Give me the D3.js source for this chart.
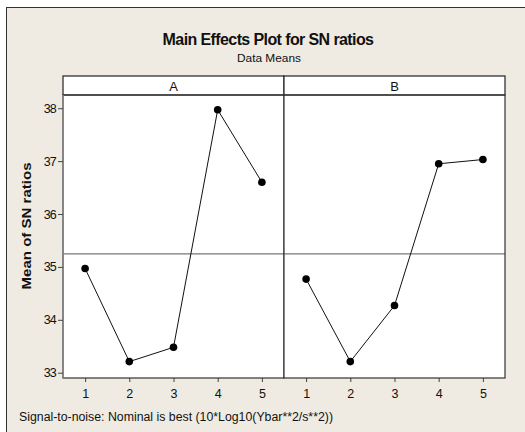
<!DOCTYPE html>
<html>
<head>
<meta charset="utf-8">
<script src="https://cdn.jsdelivr.net/npm/d3@7"></script>
<style>
  body { margin: 0; background: #fff; }
  text { font-family: "Liberation Sans Narrow", "Liberation Sans", Arial, sans-serif; fill: #111; }
</style>
</head>
<body>
<svg id="mainsvg" width="525" height="432"></svg>
<script>
// factor levels and SN ratio means
let levels = [1, 2, 3, 4, 5];
let factors = ["A", "B"];
let meansA = [34.97, 33.21, 33.48, 37.97, 36.60];
let meansB = [34.77, 33.21, 34.27, 36.95, 37.03];
let yTicks = [33, 34, 35, 36, 37, 38];

let svg = d3.select("#mainsvg");

// beige frame
svg.append("rect")
    .attr("x", 6.5).attr("y", 7.5)
    .attr("width", 540).attr("height", 440)
    .attr("fill", "#efebe2")
    .attr("stroke", "#333").attr("stroke-width", 1);

svg.append("text")
    .attr("x", 268).attr("y", 45)
    .attr("text-anchor", "middle")
    .attr("font-size", 16).attr("font-weight", "bold")
    .attr("letter-spacing", -0.6)
    .text("Main Effects Plot for SN ratios");
svg.append("text")
    .attr("x", 269).attr("y", 62)
    .attr("text-anchor", "middle")
    .attr("font-size", 11.5)
    .attr("textLength", 64).attr("lengthAdjust", "spacingAndGlyphs")
    .text("Data Means");

let plotL = 63, plotR = 505, plotT = 95, stripT = 76, plotB = 378;
let panelW = (plotR - plotL) / factors.length;

let y = d3.scaleLinear().domain([32.9, 38.25]).range([plotB, plotT]);
let series = [meansA, meansB];
let grandMean = d3.mean(meansA);

factors.forEach(function (f, i) {
    let x0 = plotL + i * panelW;
    let x = d3.scaleLinear().domain([0.5, 5.5]).range([x0, x0 + panelW]);
    let g = svg.append("g");

    g.append("rect")
        .attr("x", x0).attr("y", plotT)
        .attr("width", panelW).attr("height", plotB - plotT)
        .attr("fill", "#fff");
    // strip
    g.append("rect")
        .attr("x", x0).attr("y", stripT)
        .attr("width", panelW).attr("height", plotT - stripT)
        .attr("fill", "#fff").attr("stroke", "#222").attr("stroke-width", 1.2);
    g.append("text")
        .attr("x", x0 + panelW / 2).attr("y", 90.5)
        .attr("text-anchor", "middle")
        .attr("font-size", 13)
        .text(f);

    // grand mean reference line
    g.append("line")
        .attr("x1", x0).attr("x2", x0 + panelW)
        .attr("y1", y(grandMean)).attr("y2", y(grandMean))
        .attr("stroke", "#777").attr("stroke-width", 1.2);

    let line = d3.line().x((d, k) => x(levels[k])).y(d => y(d));
    g.append("path")
        .attr("d", line(series[i]))
        .attr("fill", "none").attr("stroke", "#111").attr("stroke-width", 1);
    g.selectAll("circle").data(series[i]).enter()
        .append("circle")
        .attr("cx", (d, k) => x(levels[k]))
        .attr("cy", d => y(d))
        .attr("r", 3.8)
        .attr("fill", "#000");

    let xAxis = g.append("g")
        .attr("transform", "translate(0," + plotB + ")")
        .call(d3.axisBottom(x).tickValues(levels).tickFormat(d3.format("d")).tickSize(4).tickPadding(7));
    xAxis.select(".domain").remove();
    xAxis.selectAll("line").attr("stroke", "#444");
    xAxis.selectAll("text").attr("font-size", 12.5);

    g.append("rect")
        .attr("x", x0).attr("y", plotT)
        .attr("width", panelW).attr("height", plotB - plotT)
        .attr("fill", "none").attr("stroke", "#333").attr("stroke-width", 1.2);
});

// left panel edge is a lighter grey in the original
svg.append("line")
    .attr("x1", plotL).attr("x2", plotL).attr("y1", plotT).attr("y2", plotB)
    .attr("stroke", "#888").attr("stroke-width", 1.6);

let yAxis = svg.append("g")
    .attr("transform", "translate(" + plotL + ",0)")
    .call(d3.axisLeft(y).tickValues(yTicks).tickFormat(d3.format("d")).tickSize(5).tickPadding(2));
yAxis.select(".domain").remove();
yAxis.selectAll("line").attr("stroke", "#444");
yAxis.selectAll("text").attr("font-size", 12.5).attr("letter-spacing", -0.8);

svg.append("text")
    .attr("transform", "translate(31,226) rotate(-90)")
    .attr("text-anchor", "middle")
    .attr("font-size", 12.5).attr("font-weight", "bold")
    .attr("textLength", 127).attr("lengthAdjust", "spacingAndGlyphs")
    .text("Mean of SN ratios");

svg.append("text")
    .attr("x", 19).attr("y", 421)
    .attr("font-size", 12.5)
    .attr("textLength", 314).attr("lengthAdjust", "spacingAndGlyphs")
    .text("Signal-to-noise: Nominal is best (10*Log10(Ybar**2/s**2))");
</script>
</body>
</html>
